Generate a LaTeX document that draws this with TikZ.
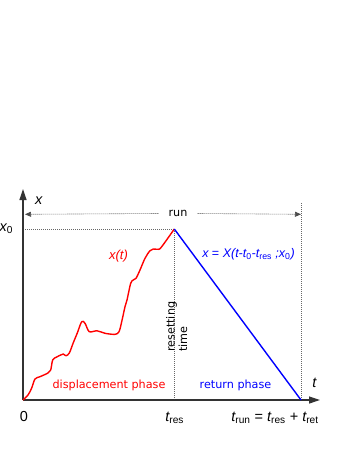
\documentclass[tikz,border=0pt]{standalone}
\usepackage{fontspec}
\setmainfont{DejaVu Sans}
\newfontfamily\labf{Liberation Sans}
\usetikzlibrary{arrows.meta}
\newcommand{\sbs}[1]{\textsubscript{\upshape #1}}
\begin{document}
\begin{tikzpicture}[x=1pt,y=-1pt,
  axis/.style={line width=1.2pt,black!80,-{Triangle[length=11pt,width=7pt]}},
  guide/.style={gray!80!black,line width=0.6pt,dash pattern=on 1pt off 1pt},
  runarrow/.style={black!70,line width=0.6pt,dash pattern=on 1pt off 1pt,-{Triangle[length=6pt,width=5pt]}},
  phase/.style={inner sep=0pt,font=\fontsize{11.2}{12.5}\selectfont},
  lab/.style={inner sep=0pt,font=\labf\fontsize{14.5}{16}\selectfont\itshape},
  walk/.style={red,line width=1.4pt,line join=round},
  ret/.style={blue,line width=1.4pt}]
\useasboundingbox (0,0) rectangle (353,457);
% key coordinates
\coordinate (O) at (23,400);
\coordinate (ytip) at (23,189);
\coordinate (xtip) at (320,400);
\coordinate (peak) at (174.3,229);
\coordinate (peakx) at (23,229);
\coordinate (res) at (174.3,400);
\coordinate (end) at (301,400);
\coordinate (endtop) at (301,203);
\coordinate (runL) at (25,214.3);
\coordinate (runR) at (301,214.3);
% guides
\draw[guide] (peakx) -- (peak);
\draw[guide] (peak) -- (res);
\draw[guide] (endtop) -- (end);
% run arrow
\node[phase,fill=white,inner xsep=10pt,inner ysep=2pt] (run) at (178,213.5) {run};
\draw[runarrow] (run.west) -- (runL);
\draw[runarrow] (run.east) -- (runR);
% axes
\draw[axis] (O) -- (ytip);
\draw[axis] (O) -- (xtip);
% displacement curve
\draw[walk] plot[smooth,tension=0.55] coordinates {
 (23,400) (28,395) (31.7,388) (35,379) (40,376.7) (48,373) (50.7,370)
 (52.7,360) (56.7,357) (60.7,355) (63.3,354) (66,355.7) (69.3,353)
 (73.3,342.7) (77.3,333) (81.7,321.7) (85,323.3) (89.3,331.7) (96.7,330.7)
 (105,333.3) (115,334.3) (119,331.7) (121.7,321.7) (125,306.7) (127,300)
 (130.7,283.3) (133.3,280) (136,278.3) (140,270) (145,258.3) (150,250.7)
 (153.3,249) (158.3,249.3) (161.7,246.7) (174.3,229)};
% return line
\draw[ret] (peak) -- (end);
% labels
\node[lab] (xl) at (38.8,201) {x};
\node[lab] (x0) at (6.2,228.5) {x\sbs{0}};
\node[lab] (tl) at (314.5,383.3) {t};
\node[lab,font=\labf\fontsize{14.5}{16}\selectfont] (zero) at (24,417) {0};
\node[lab] (tres) at (174.7,418) {t\sbs{res}};
\node[lab] (trun) at (275,418) {t\sbs{run} {\upshape=} t\sbs{res} {\upshape+} t\sbs{ret}};
\node[lab,red,font=\labf\fontsize{13}{15}\selectfont\itshape] (xt) at (118.5,256) {x(t)};
\node[lab,blue,font=\labf\fontsize{12.5}{14}\selectfont\itshape] (form) at (248.5,254) {x {\upshape=} X(t-t\sbs{0}-t\sbs{res} ;x\sbs{0})};
\node[phase,red] (disp) at (109,385) {displacement phase};
\node[phase,blue] (retp) at (235.5,385) {return phase};
\node[phase,rotate=90,anchor=north west,align=left] (rt) at (166,352) {resetting\\time};
\end{tikzpicture}
\end{document}
